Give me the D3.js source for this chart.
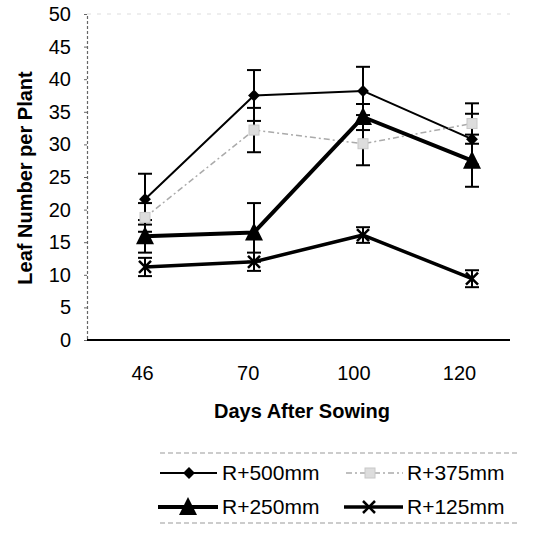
<!DOCTYPE html>
<html>
<head>
<meta charset="utf-8">
<script src="https://cdn.jsdelivr.net/npm/d3@7"></script>
<style>
  html, body { margin: 0; padding: 0; background: #fff; }
  svg { display: block; }
  text { font-family: "Liberation Sans", Arial, sans-serif; fill: #000; }
</style>
</head>
<body>
<svg id="chart" width="540" height="537"></svg>
<script>
// Days after sowing (categories)
const days = ["46", "70", "100", "120"];
// Y tick labels
const yTicks = [0, 5, 10, 15, 20, 25, 30, 35, 40, 45, 50];

// Leaf number per plant, mean and error per treatment
const r500 = [21.6, 37.5, 38.2, 30.8];
const r500Err = [3.9, 3.9, 3.7, 3.9];
const r375 = [18.8, 32.2, 30.1, 33.2];
const r375Err = [2.2, 3.4, 3.3, 3.1];
const r250 = [15.9, 16.5, 34.2, 27.5];
const r250Err = [2.5, 4.5, 2.0, 4.0];
const r125 = [11.2, 12.0, 16.1, 9.4];
const r125Err = [1.4, 1.4, 1.2, 1.3];

const seriesNames = ["R+500mm", "R+375mm", "R+250mm", "R+125mm"];

const svg = d3.select("#chart");

const x = d3.scalePoint().domain(days).range([145, 472]);
const xLabel = d3.scalePoint().domain(days).range([142, 459]);
const y = d3.scaleLinear().domain([0, 50]).range([340, 14]);

const series = [
  { name: seriesNames[0], values: r500, err: r500Err, color: "#000", width: 2, dash: null, marker: "diamond" },
  { name: seriesNames[1], values: r375, err: r375Err, color: "#aaa", width: 1.5, dash: "6,3,2,3", marker: "square" },
  { name: seriesNames[2], values: r250, err: r250Err, color: "#000", width: 4, dash: null, marker: "triangle" },
  { name: seriesNames[3], values: r125, err: r125Err, color: "#000", width: 3.5, dash: null, marker: "cross" }
];

// Plot frame: faint top border, dotted left axis, solid baseline
svg.append("line")
  .attr("x1", 87).attr("x2", 510).attr("y1", y(50)).attr("y2", y(50))
  .attr("stroke", "#ddd").attr("stroke-width", 1).attr("stroke-dasharray", "4,6");

const yAxis = d3.axisLeft(y).tickValues(yTicks).tickSize(3).tickPadding(13);
const yg = svg.append("g").attr("transform", "translate(87,0)").call(yAxis);
yg.select(".domain").attr("stroke", "#666").attr("stroke-width", 1.2).attr("stroke-dasharray", "3,2");
yg.selectAll(".tick line").attr("stroke", "#666");
yg.selectAll(".tick text")
  .style("font-size", "20px")
  .style("font-family", "'Liberation Sans', Arial, sans-serif")
  .attr("fill", "#000");

svg.append("line")
  .attr("x1", 87).attr("x2", 510).attr("y1", y(0)).attr("y2", y(0))
  .attr("stroke", "#000").attr("stroke-width", 2);

const xAxis = d3.axisBottom(xLabel).tickSize(0).tickPadding(26);
const xg = svg.append("g").attr("transform", `translate(0,${y(0)})`).call(xAxis);
xg.select(".domain").remove();
xg.selectAll(".tick text")
  .style("font-size", "20px")
  .style("font-family", "'Liberation Sans', Arial, sans-serif")
  .attr("fill", "#000");

// Axis titles
svg.append("text")
  .attr("x", 302).attr("y", 418)
  .attr("text-anchor", "middle")
  .style("font-size", "20px").style("font-weight", "bold")
  .text("Days After Sowing");

svg.append("text")
  .attr("transform", "translate(32,178) rotate(-90)")
  .attr("text-anchor", "middle")
  .style("font-size", "20px").style("font-weight", "bold")
  .text("Leaf Number per Plant");

// Marker shapes
function drawMarker(g, type, cx, cy) {
  if (type === "diamond") {
    g.append("path")
      .attr("d", d3.symbol(d3.symbolDiamond2, 90)())
      .attr("transform", `translate(${cx},${cy})`)
      .attr("fill", "#000");
  } else if (type === "square") {
    g.append("rect")
      .attr("x", cx - 5).attr("y", cy - 5).attr("width", 10).attr("height", 10)
      .attr("fill", "#ddd").attr("stroke", "#c8c8c8").attr("stroke-width", 1);
  } else if (type === "triangle") {
    g.append("path")
      .attr("d", `M${cx},${cy - 10}L${cx + 9},${cy + 8}L${cx - 9},${cy + 8}Z`)
      .attr("fill", "#000");
  } else if (type === "cross") {
    g.append("path")
      .attr("d", `M${cx - 6},${cy - 6}L${cx + 6},${cy + 6}M${cx + 6},${cy - 6}L${cx - 6},${cy + 6}`)
      .attr("stroke", "#000").attr("stroke-width", 2.5).attr("fill", "none");
  }
}

const line = d3.line().x((d, i) => x(days[i])).y(d => y(d));

// Lines
series.forEach(s => {
  svg.append("path")
    .datum(s.values)
    .attr("d", line)
    .attr("fill", "none")
    .attr("stroke", s.color)
    .attr("stroke-width", s.width)
    .attr("stroke-dasharray", s.dash)
    .attr("stroke-linejoin", "round");
});

// Error bars
const cap = 7;
series.forEach(s => {
  const g = svg.append("g");
  s.values.forEach((v, i) => {
    const cx = x(days[i]);
    const y1 = y(v + s.err[i]), y2 = y(v - s.err[i]);
    g.append("line").attr("x1", cx).attr("x2", cx).attr("y1", y1).attr("y2", y2)
      .attr("stroke", "#000").attr("stroke-width", 2);
    [y1, y2].forEach(yy => {
      g.append("line").attr("x1", cx - cap).attr("x2", cx + cap).attr("y1", yy).attr("y2", yy)
        .attr("stroke", "#000").attr("stroke-width", 2);
    });
  });
});

// Markers
series.forEach(s => {
  const g = svg.append("g");
  s.values.forEach((v, i) => drawMarker(g, s.marker, x(days[i]), y(v)));
});

// Legend
const legend = svg.append("g");
legend.append("line").attr("x1", 160).attr("x2", 518).attr("y1", 453).attr("y2", 453)
  .attr("stroke", "#999").attr("stroke-width", 1.2).attr("stroke-dasharray", "5,3");
legend.append("line").attr("x1", 160).attr("x2", 518).attr("y1", 523).attr("y2", 523)
  .attr("stroke", "#999").attr("stroke-width", 1.2).attr("stroke-dasharray", "5,3");

const legendPos = [
  { x0: 160, x1: 217, mx: 189, tx: 222, ty: 473 },
  { x0: 346, x1: 403, mx: 370, tx: 407, ty: 473 },
  { x0: 158, x1: 218, mx: 188, tx: 222, ty: 507 },
  { x0: 344, x1: 403, mx: 369, tx: 407, ty: 507 }
];
series.forEach((s, i) => {
  const p = legendPos[i];
  legend.append("line")
    .attr("x1", p.x0).attr("x2", p.x1).attr("y1", p.ty).attr("y2", p.ty)
    .attr("stroke", s.color).attr("stroke-width", s.width)
    .attr("stroke-dasharray", s.dash);
  drawMarker(legend, s.marker, p.mx, p.ty);
  legend.append("text")
    .attr("x", p.tx).attr("y", p.ty + 7)
    .style("font-size", "21px")
    .text(s.name);
});
</script>
</body>
</html>
